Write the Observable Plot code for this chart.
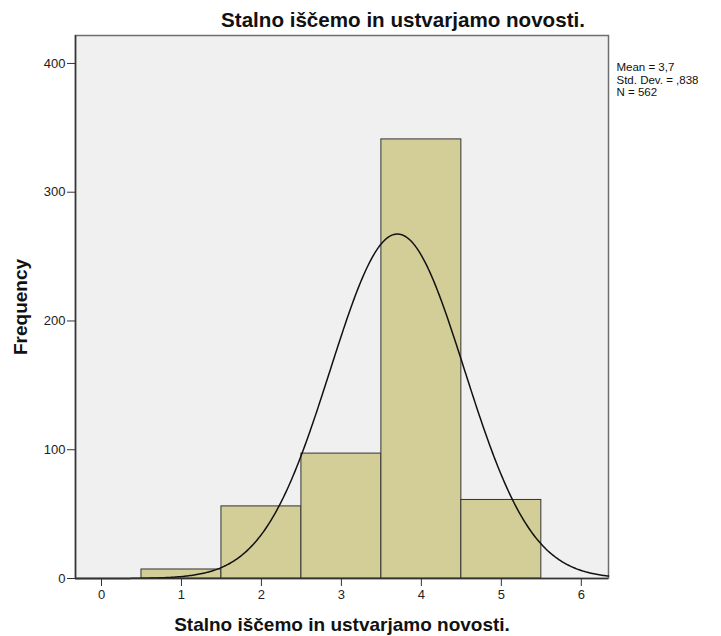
<!DOCTYPE html>
<html>
<head>
<meta charset="utf-8">
<script src="https://cdn.jsdelivr.net/npm/d3@7"></script>
<script src="https://cdn.jsdelivr.net/npm/@observablehq/plot@0.6"></script>
<style>
  html, body { margin: 0; padding: 0; background: white; }
</style>
</head>
<body>
<div id="chart"></div>
<script>
// Data
const binCenters = [1, 2, 3, 4, 5];
const frequencies = [7, 56, 97, 341, 61];
const binWidth = 1;
const xTicks = [0, 1, 2, 3, 4, 5, 6];
const yTicks = [0, 100, 200, 300, 400];
const statMean = 3.7;
const statSD = 0.838;
const statN = 562;
const titleText = "Stalno iščemo in ustvarjamo novosti.";
const xLabel = "Stalno iščemo in ustvarjamo novosti.";
const yLabel = "Frequency";
const statsLines = ["Mean = 3,7", "Std. Dev. = ,838", "N = 562"];

const xDomain = [-0.325, 6.34];
const yDomain = [0, 421.7];

const bars = binCenters.map((c, i) => ({x1: c - binWidth / 2, x2: c + binWidth / 2, y: frequencies[i]}));

// Normal curve implied by the stated mean, SD and N
const curve = d3.range(0, 401).map(i => {
  const x = xDomain[0] + (xDomain[1] - xDomain[0]) * i / 400;
  const z = (x - statMean) / statSD;
  return {x, y: statN * binWidth * Math.exp(-0.5 * z * z) / (statSD * Math.sqrt(2 * Math.PI))};
});

const chart = Plot.plot({
  width: 721,
  height: 636,
  marginLeft: 75,
  marginRight: 113,
  marginTop: 35,
  marginBottom: 58,
  style: {fontFamily: "'Liberation Sans', Arial, sans-serif", fontSize: "13px", background: "white", color: "#222", overflow: "visible"},
  x: {domain: xDomain},
  y: {domain: yDomain},
  marks: [
    Plot.frame({fill: "#f0f0f0", stroke: "#6e6e6e", strokeWidth: 1.5}),
    Plot.rectY(bars, {x1: "x1", x2: "x2", y: "y", fill: "#d3ce97", stroke: "#333", strokeWidth: 1}),
    Plot.line(curve, {x: "x", y: "y", stroke: "#111", strokeWidth: 1.5}),
    Plot.ruleY([0], {stroke: "#333", strokeWidth: 1.5}),
    Plot.ruleX([xDomain[0]], {stroke: "#333", strokeWidth: 1.5}),
    Plot.axisX({ticks: xTicks, tickFormat: "d", tickSize: 8, tickPadding: 3, label: null, fontSize: 13, stroke: "#333"}),
    Plot.axisY({ticks: yTicks, tickFormat: "d", tickSize: 8, tickPadding: 2, label: null, fontSize: 13, stroke: "#333"}),
    Plot.text([titleText], {frameAnchor: "top", dx: 61, dy: -15, lineAnchor: "middle", fontSize: 20.6, fontWeight: "bold", fill: "#111"}),
    Plot.text([xLabel], {frameAnchor: "bottom", dy: 46, lineAnchor: "middle", fontSize: 19, fontWeight: "bold", fill: "#111"}),
    Plot.text([yLabel], {frameAnchor: "left", dx: -55, rotate: -90, textAnchor: "middle", lineAnchor: "middle", fontSize: 19, fontWeight: "bold", fill: "#111"}),
    Plot.text([statsLines.join("\n")], {frameAnchor: "top-right", dx: 8, dy: 27, textAnchor: "start", lineAnchor: "top", lineHeight: 1.08, fontSize: 11.5, fill: "#111"})
  ]
});
document.getElementById("chart").append(chart);
</script>
</body>
</html>
